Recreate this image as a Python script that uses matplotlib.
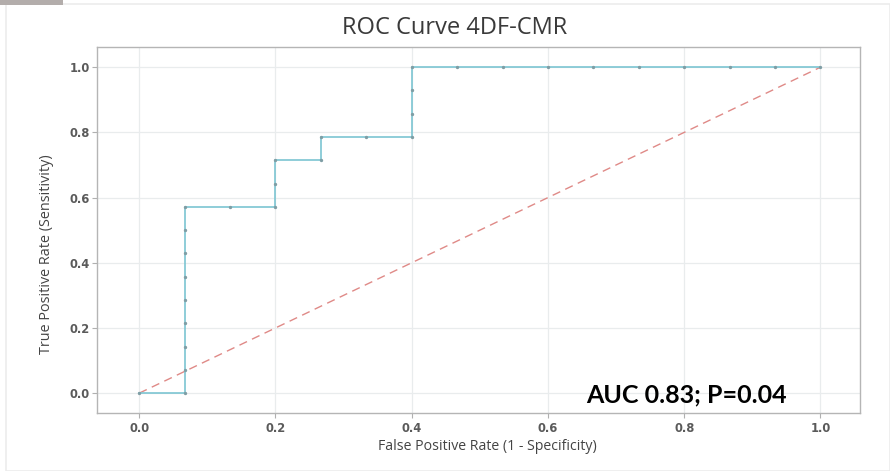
import matplotlib
matplotlib.use("Agg")
import matplotlib.pyplot as plt
from matplotlib.patches import Rectangle

# ROC data (FPR steps of 1/15, TPR steps of 1/14)
fpr = [0.0, 1/15, 1/15, 1/15, 1/15, 1/15, 1/15, 1/15, 1/15, 1/15,
       2/15, 3/15, 3/15, 3/15, 4/15, 4/15, 5/15, 6/15, 6/15, 6/15, 6/15,
       7/15, 8/15, 9/15, 10/15, 11/15, 12/15, 13/15, 14/15, 15/15]
tpr = [0.0, 0.0, 1/14, 2/14, 3/14, 4/14, 5/14, 6/14, 7/14, 8/14,
       8/14, 8/14, 9/14, 10/14, 10/14, 11/14, 11/14, 11/14, 12/14, 13/14, 1.0,
       1.0, 1.0, 1.0, 1.0, 1.0, 1.0, 1.0, 1.0, 1.0]
diag = [0.0, 1.0]
ticks = [0.0, 0.2, 0.4, 0.6, 0.8, 1.0]
tick_labels = ["0.0", "0.2", "0.4", "0.6", "0.8", "1.0"]
title = "ROC Curve 4DF-CMR"
xlabel = "False Positive Rate (1 - Specificity)"
ylabel = "True Positive Rate (Sensitivity)"
annotation = "AUC 0.83; P=0.04"

plt.rcParams['font.family'] = ['Open Sans', 'DejaVu Sans']

fig = plt.figure(figsize=(8.9, 4.71), dpi=100)
fig.patch.set_facecolor("white")

# faint frame and small gray tab in the top-left corner
fig.add_artist(Rectangle((6/890, 0), 1 - 6/890, 1 - 4/471, transform=fig.transFigure,
                         fill=False, edgecolor="#ececec", linewidth=1.2))
fig.add_artist(Rectangle((0, 1 - 5/471), 63/890, 5/471, transform=fig.transFigure,
                         facecolor="#b3adab", edgecolor="none"))

ax = fig.add_axes([97/890, 1 - 412.7/471, (860 - 97)/890, (412.7 - 47.3)/471])
ax.set_xlim(-0.062, 1.058)
ax.set_ylim(-0.06, 1.061)

ax.grid(True, color="#e9eced", linewidth=0.9)
ax.set_axisbelow(True)

ax.plot(diag, diag, linestyle=(0, (6, 4)), color="#dc7d7a", linewidth=1.0, alpha=0.9)
ax.plot(fpr, tpr, color="#7cc5d2", linewidth=1.2, marker="o", markersize=1.4,
        markerfacecolor="#7f9ea5", markeredgecolor="#7f9ea5")

ax.set_xticks(ticks)
ax.set_xticklabels(tick_labels)
ax.set_yticks(ticks)
ax.set_yticklabels(tick_labels)
ax.tick_params(axis="both", colors="#b0b0b0", labelcolor="#5a5a5a",
               length=3.5, width=0.8)
ax.tick_params(axis="y", pad=1.5)
ax.tick_params(axis="x", pad=3)
for lab in ax.get_xticklabels() + ax.get_yticklabels():
    lab.set_fontfamily("DejaVu Sans")
    lab.set_fontweight("bold")
    lab.set_fontsize(8.3)

for s in ax.spines.values():
    s.set_color("#b5b5b5")
    s.set_linewidth(1.0)

fig.text(487/890, 1 - 447/471, xlabel, ha="center", va="center", fontsize=10.2,
         color="#444444")
fig.text(46.5/890, 1 - 254/471, ylabel, ha="center", va="center", fontsize=10.4,
         color="#444444", rotation=90)

fig.text(455/890, 1 - 27.5/471, title, ha="center", va="center", fontsize=17,
         color="#3a3a3a")

fig.text(586/890, 1 - 395/471, annotation, ha="left", va="center", fontsize=18,
         fontweight="bold", color="black", family=["Lato", "DejaVu Sans"])

fig.savefig("out.png", dpi=100, facecolor="white")
